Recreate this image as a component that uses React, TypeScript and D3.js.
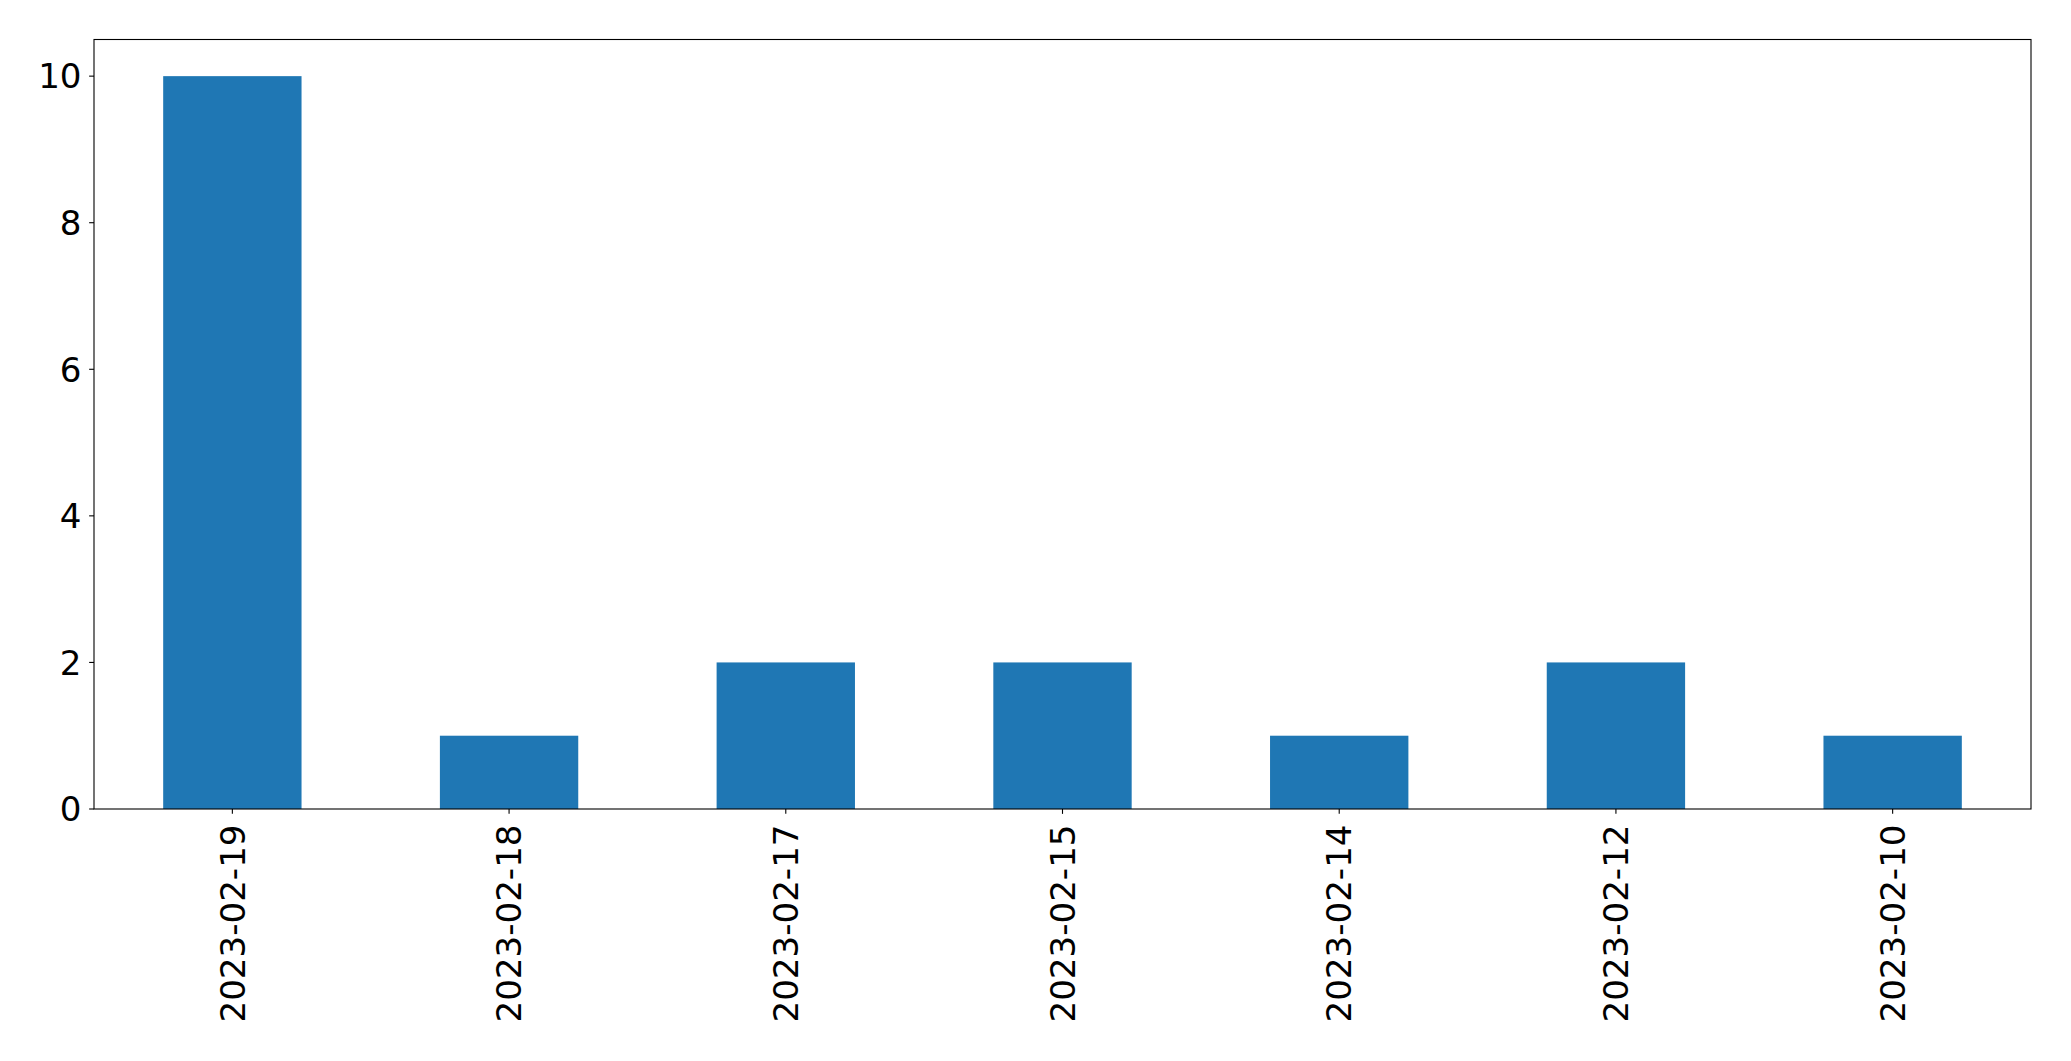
import React from "react";
import * as d3 from "d3";

const categories = ["2023-02-19", "2023-02-18", "2023-02-17", "2023-02-15", "2023-02-14", "2023-02-12", "2023-02-10"];
const values = [10, 1, 2, 2, 1, 2, 1];
const yTicks = [0, 2, 4, 6, 8, 10];

const W = 2071;
const H = 1061;
const M = { left: 94, right: 2031, top: 39.5, bottom: 809 };
const FONT = "DejaVu Sans";
const FS = 34.1;

export default function App() {
  React.useEffect(() => {
    document.body.style.margin = "0";
  }, []);
  const x = d3.scaleBand<string>().domain(categories).range([M.left, M.right]).paddingInner(0.5).paddingOuter(0.25);
  const y = d3.scaleLinear().domain([0, 10.5]).range([M.bottom, M.top]);
  const tick = 4.86;
  return (
    <svg width={W} height={H} style={{ position: "absolute", left: 0, top: 0, background: "#fff" }}>
      <rect x={0} y={0} width={W} height={H} fill="#fff" />
      {categories.map((c, i) => (
        <rect key={c} x={x(c)} y={y(values[i])} width={x.bandwidth()} height={y(0) - y(values[i])} fill="#1f77b4" />
      ))}
      <rect x={M.left} y={M.top} width={M.right - M.left} height={M.bottom - M.top} fill="none" stroke="#000" strokeWidth={1.1} />
      {yTicks.map((t) => (
        <g key={t}>
          <line x1={M.left - tick} x2={M.left} y1={y(t)} y2={y(t)} stroke="#000" strokeWidth={1.1} />
          <text x={M.left - 12.5} y={y(t)} dy="0.36em" textAnchor="end" fontFamily={FONT} fontSize={FS} fill="#000">
            {t}
          </text>
        </g>
      ))}
      {categories.map((c) => {
        const cx = (x(c) as number) + x.bandwidth() / 2;
        const ty = M.bottom + 15.5;
        return (
          <g key={c}>
            <line x1={cx} x2={cx} y1={M.bottom} y2={M.bottom + tick} stroke="#000" strokeWidth={1.1} />
            <text
              transform={`translate(${cx},${ty}) rotate(-90)`}
              x={0}
              y={0}
              dy="0.36em"
              textAnchor="end"
              fontFamily={FONT}
              fontSize={FS}
              fill="#000"
            >
              {c}
            </text>
          </g>
        );
      })}
    </svg>
  );
}
